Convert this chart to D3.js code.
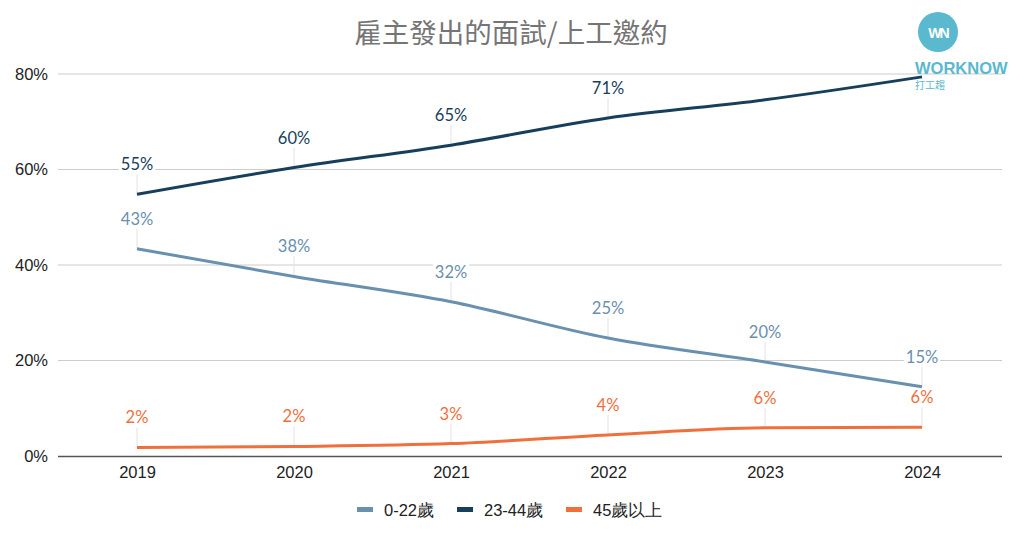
<!DOCTYPE html>
<html><head><meta charset="utf-8">
<script src="https://cdn.jsdelivr.net/npm/d3@7"></script>
<style>body{margin:0;background:#fff}svg{display:block}</style>
</head><body>
<svg id="c" width="1024" height="538"></svg>
<script>
const years = ["2019","2020","2021","2022","2023","2024"];
const seriesNames = ["0-22歲","23-44歲","45歲以上"];
const young = [43.4, 37.6, 32.3, 24.7, 19.7, 14.5];
const middle = [54.8, 60.4, 65.1, 70.8, 74.6, 79.4];
const senior = [1.8, 2.0, 2.6, 4.4, 5.9, 6.0];
const middleLabelShown = [true, true, true, true, false, false];
const yTicks = [0, 20, 40, 60, 80];
const title = "雇主發出的面試/上工邀約";

const colors = ["#6990ae", "#173f5c", "#f0703c"];
const series = [
  {name: seriesNames[0], values: young, shown: years.map(()=>true), color: colors[0]},
  {name: seriesNames[1], values: middle, shown: middleLabelShown, color: colors[1]},
  {name: seriesNames[2], values: senior, shown: years.map(()=>true), color: colors[2]}
];

const svg = d3.select("#c");
const x = d3.scalePoint().domain(years).range([137, 922]);
const y = d3.scaleLinear().domain([0, 80]).range([456, 74]);
const axisFont = "'Liberation Sans', Arial, sans-serif";

// title
svg.append("text").attr("x", 511).attr("y", 43).attr("text-anchor", "middle")
  .attr("font-family", "'Noto Sans CJK TC', sans-serif").attr("font-size", 27.5)
  .attr("fill", "#757575").text(title);

// gridlines
svg.append("g").selectAll("line").data(yTicks.filter(d => d > 0)).join("line")
  .attr("x1", 58).attr("x2", 1002).attr("y1", d => y(d)).attr("y2", d => y(d))
  .attr("stroke", "#cccccc").attr("stroke-width", 1);

// y axis labels
const yAxis = svg.append("g").attr("transform", "translate(58,0)")
  .call(d3.axisLeft(y).tickValues(yTicks).tickFormat(d => d + "%").tickSize(0).tickPadding(10));
yAxis.select(".domain").remove();
yAxis.selectAll("text").attr("font-family", axisFont).attr("font-size", 16.5).attr("fill", "#222");

// x axis
const xAxis = svg.append("g").attr("transform", "translate(0,456)")
  .call(d3.axisBottom(x).tickSize(0).tickPadding(10));
xAxis.select(".domain").attr("d", "M58,0.5H1002").attr("stroke", "#555").attr("stroke-width", 1.5);
xAxis.selectAll("text").attr("font-family", axisFont).attr("font-size", 16.5).attr("fill", "#222");

// leader lines and labels
const line = d3.line().x((d, i) => x(years[i])).y(d => y(d)).curve(d3.curveMonotoneX);
const labelG = svg.append("g");
series.forEach(s => {
  s.values.forEach((v, i) => {
    if (!s.shown[i]) return;
    const px = x(years[i]), py = y(v);
    labelG.append("line").attr("x1", px).attr("x2", px).attr("y1", py - 24).attr("y2", py)
      .attr("stroke", "#e2e2e2").attr("stroke-width", 1);
  });
});
svg.append("g").selectAll("path").data(series).join("path")
  .attr("d", d => line(d.values)).attr("fill", "none")
  .attr("stroke", d => d.color).attr("stroke-width", 3);
series.forEach(s => {
  s.values.forEach((v, i) => {
    if (!s.shown[i]) return;
    const px = x(years[i]), py = y(v);
    const t = labelG.append("text").attr("x", px).attr("y", py - 30)
      .attr("text-anchor", "middle").attr("dominant-baseline", "central")
      .attr("font-family", "Lato, sans-serif").attr("font-size", 16.5)
      .attr("fill", s.color).text(Math.round(v) + "%");
    const bb = t.node().getBBox();
    labelG.insert("rect", () => t.node()).attr("x", bb.x - 2).attr("y", bb.y)
      .attr("width", bb.width + 4).attr("height", bb.height).attr("fill", "#fff");
  });
});

// legend
const legendX = [357, 457, 566];
const lg = svg.append("g");
series.forEach((s, i) => {
  lg.append("rect").attr("x", legendX[i]).attr("y", 507).attr("width", 16).attr("height", 5).attr("fill", s.color);
  lg.append("text").attr("x", legendX[i] + 27).attr("y", 510).attr("dominant-baseline", "central")
    .attr("font-family", axisFont).attr("font-size", 16.5).attr("fill", "#222").text(s.name);
});

// logo
const logo = svg.append("g");
logo.append("circle").attr("cx", 938).attr("cy", 32).attr("r", 20).attr("fill", "#5ab8cf");
logo.append("text").attr("x", 938).attr("y", 33).attr("text-anchor", "middle").attr("dominant-baseline", "central")
  .attr("font-family", "'Liberation Sans', Arial, sans-serif").attr("font-weight", "bold")
  .attr("font-size", 14).attr("letter-spacing", -2).attr("fill", "#fff").text("WN");
logo.append("text").attr("x", 915).attr("y", 74)
  .attr("font-family", "'Liberation Sans', Arial, sans-serif").attr("font-weight", "bold")
  .attr("font-size", 16.5).attr("fill", "#5ab8cf").text("WORKNOW");
logo.append("text").attr("x", 915).attr("y", 89)
  .attr("font-family", "'Noto Sans CJK TC', sans-serif").attr("font-size", 10)
  .attr("fill", "#5ab8cf").text("打工趨");
</script>
</body></html>
